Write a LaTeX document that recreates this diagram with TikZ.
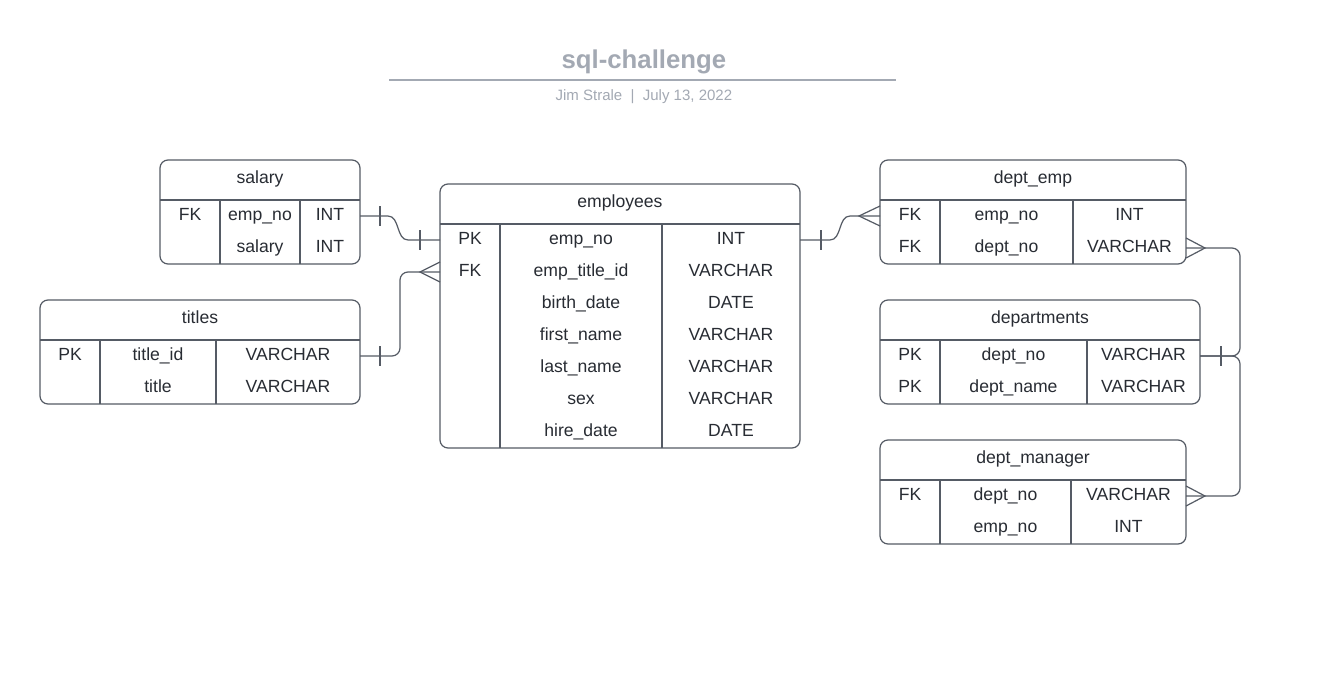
\documentclass[tikz,border=0pt]{standalone}
\usepackage{fontspec}
\setmainfont{Liberation Sans}
\definecolor{txt}{HTML}{282C33}
\definecolor{bord}{HTML}{555B65}
\definecolor{ttl}{HTML}{A3A9B3}
\begin{document}
\begin{tikzpicture}[x=0.75pt,y=-0.75pt,
  tbl/.style={draw=bord, line width=0.9pt, rounded corners=6pt, inner sep=0pt, outer sep=0pt, anchor=north west, fill=white},
  grid/.style={draw=bord, line width=0.9pt},
  cell/.style={font=\fontsize{13.2}{15}\selectfont, text=txt, inner sep=0pt, text height=6.45pt, text depth=0pt},
  conn/.style={draw=bord, line width=0.9pt},
  rconn/.style={conn, rounded corners=6pt},
  tickln/.style={draw=bord, line width=0.9pt},
  ttlnode/.style={font=\bfseries\fontsize{19.3}{23}\selectfont, text=ttl, inner sep=0pt, text height=13.8pt, text depth=0pt},
  subnode/.style={font=\fontsize{11.25}{13}\selectfont, text=ttl, inner sep=0pt, text height=8.05pt, text depth=0pt},
]
\fill[white] (0,0) rectangle (1338,692);
\useasboundingbox (0,0) rectangle (1338,692);

% title
\node[ttlnode] (title) at (643.9,59.5) {sql-challenge};
\draw[ttl, line width=1.5pt] (389,80) -- (896,80);
\node[subnode] (subtitle) at (643.9,94.7) {Jim Strale\ \ |\ \ July 13, 2022};

% salary
\node[tbl, minimum width=150pt, minimum height=78pt] (salary) at (160,160) {};
\draw[grid] (160,200) -- (360,200) (220,200) -- (220,264) (300,200) -- (300,264);
\node[cell] (sal-h) at (260,179) {salary};
\node[cell] (sal-k1) at (190,216) {FK};
\node[cell] (sal-n1) at (260,216) {emp\_no};
\node[cell] (sal-t1) at (330,216) {INT};
\node[cell] (sal-n2) at (260,248) {salary};
\node[cell] (sal-t2) at (330,248) {INT};

% titles
\node[tbl, minimum width=240pt, minimum height=78pt] (titles) at (40,300) {};
\draw[grid] (40,340) -- (360,340) (100,340) -- (100,404) (216,340) -- (216,404);
\node[cell] (tit-h) at (200,319) {titles};
\node[cell] (tit-k1) at (70,356) {PK};
\node[cell] (tit-n1) at (158,356) {title\_id};
\node[cell] (tit-t1) at (288,356) {VARCHAR};
\node[cell] (tit-n2) at (158,388) {title};
\node[cell] (tit-t2) at (288,388) {VARCHAR};

% employees
\node[tbl, minimum width=270pt, minimum height=198pt] (employees) at (440,184) {};
\draw[grid] (440,224) -- (800,224) (500,224) -- (500,448) (662,224) -- (662,448);
\node[cell] (emp-h) at (620,203) {employees};
\node[cell] (emp-k1) at (470,240) {PK};
\node[cell] (emp-n1) at (581,240) {emp\_no};
\node[cell] (emp-t1) at (731,240) {INT};
\node[cell] (emp-k2) at (470,272) {FK};
\node[cell] (emp-n2) at (581,272) {emp\_title\_id};
\node[cell] (emp-t2) at (731,272) {VARCHAR};
\node[cell] (emp-n3) at (581,304) {birth\_date};
\node[cell] (emp-t3) at (731,304) {DATE};
\node[cell] (emp-n4) at (581,336) {first\_name};
\node[cell] (emp-t4) at (731,336) {VARCHAR};
\node[cell] (emp-n5) at (581,368) {last\_name};
\node[cell] (emp-t5) at (731,368) {VARCHAR};
\node[cell] (emp-n6) at (581,400) {sex};
\node[cell] (emp-t6) at (731,400) {VARCHAR};
\node[cell] (emp-n7) at (581,432) {hire\_date};
\node[cell] (emp-t7) at (731,432) {DATE};

% dept_emp
\node[tbl, minimum width=229.5pt, minimum height=78pt] (dept_emp) at (880,160) {};
\draw[grid] (880,200) -- (1186,200) (940,200) -- (940,264) (1073,200) -- (1073,264);
\node[cell] (de-h) at (1033,179) {dept\_emp};
\node[cell] (de-k1) at (910,216) {FK};
\node[cell] (de-n1) at (1006.5,216) {emp\_no};
\node[cell] (de-t1) at (1129.5,216) {INT};
\node[cell] (de-k2) at (910,248) {FK};
\node[cell] (de-n2) at (1006.5,248) {dept\_no};
\node[cell] (de-t2) at (1129.5,248) {VARCHAR};

% departments
\node[tbl, minimum width=240pt, minimum height=78pt] (departments) at (880,300) {};
\draw[grid] (880,340) -- (1200,340) (940,340) -- (940,404) (1087,340) -- (1087,404);
\node[cell] (dp-h) at (1040,319) {departments};
\node[cell] (dp-k1) at (910,356) {PK};
\node[cell] (dp-n1) at (1013.5,356) {dept\_no};
\node[cell] (dp-t1) at (1143.5,356) {VARCHAR};
\node[cell] (dp-k2) at (910,388) {PK};
\node[cell] (dp-n2) at (1013.5,388) {dept\_name};
\node[cell] (dp-t2) at (1143.5,388) {VARCHAR};

% dept_manager
\node[tbl, minimum width=229.5pt, minimum height=78pt] (dept_manager) at (880,440) {};
\draw[grid] (880,480) -- (1186,480) (940,480) -- (940,544) (1071,480) -- (1071,544);
\node[cell] (dm-h) at (1033,459) {dept\_manager};
\node[cell] (dm-k1) at (910,496) {FK};
\node[cell] (dm-n1) at (1005.5,496) {dept\_no};
\node[cell] (dm-t1) at (1128.5,496) {VARCHAR};
\node[cell] (dm-n2) at (1005.5,528) {emp\_no};
\node[cell] (dm-t2) at (1128.5,528) {INT};

% salary -> employees (one to one)
\draw[conn] (salary.east |- sal-t1) -- (388,216) .. controls (400,216) and (396,240) .. (408,240) -- (employees.west |- emp-k1);
\draw[tickln] (380,206) -- (380,226);
\draw[tickln] (420,230) -- (420,250);

% titles -> employees (one to many)
\draw[rconn] (titles.east |- tit-t1) -- (400,356) -- (400,272) -- (employees.west |- emp-k2);
\draw[tickln] (380,346) -- (380,366);
\draw[tickln] (440,262) -- (420,272) -- (440,282);

% employees -> dept_emp
\draw[conn] (employees.east |- emp-t1) -- (830,240) .. controls (842,240) and (838,216) .. (850,216) -- (dept_emp.west |- de-k1);
\draw[tickln] (821,230) -- (821,250);
\draw[tickln] (880,206) -- (859,216) -- (880,226);

% departments -> dept_emp
\draw[rconn] (departments.east |- dp-t1) -- (1240,356) -- (1240,248) -- (dept_emp.east |- de-t2);
\draw[tickln] (1221,346) -- (1221,366);
\draw[tickln] (1186,238) -- (1205,248) -- (1186,258);

% departments -> dept_manager
\draw[rconn] (departments.east |- dp-t1) -- (1240,356) -- (1240,496) -- (dept_manager.east |- dm-t1);
\draw[tickln] (1186,486) -- (1205,496) -- (1186,506);
\end{tikzpicture}
\end{document}
